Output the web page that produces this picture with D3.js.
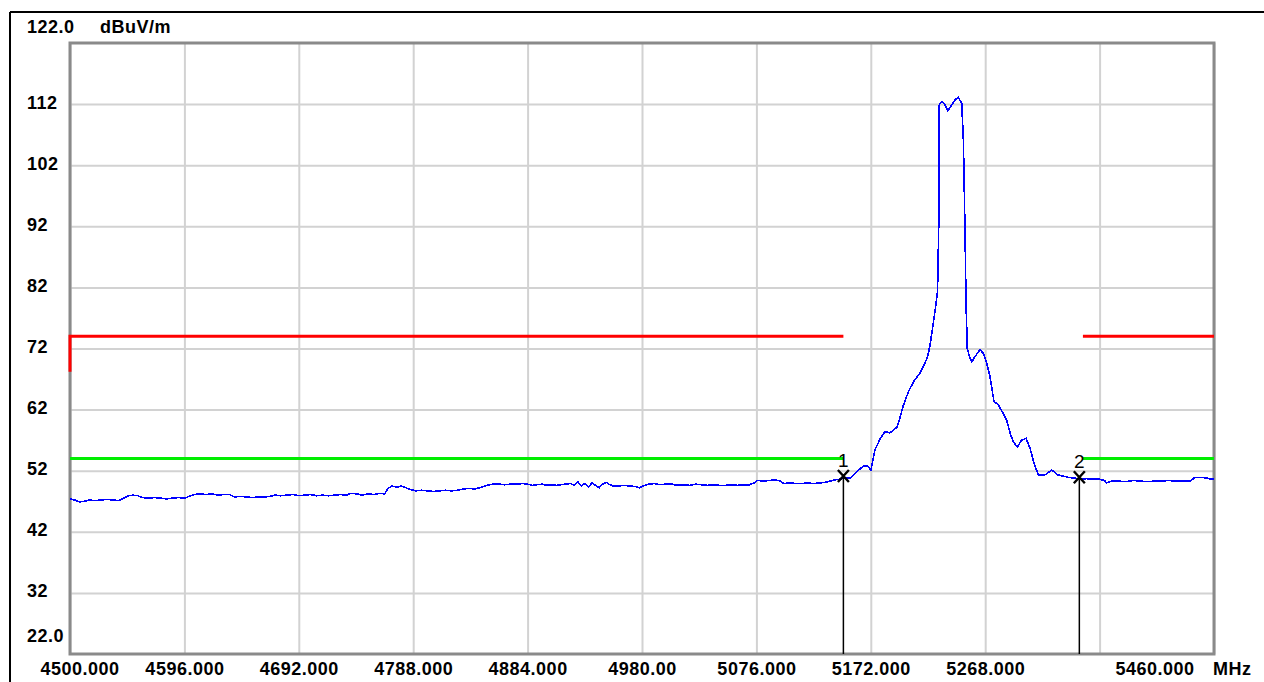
<!DOCTYPE html>
<html>
<head>
<meta charset="utf-8">
<script src="https://cdn.jsdelivr.net/npm/d3@7"></script>
<style>
  html, body { margin: 0; padding: 0; background: #fff; }
  svg { display: block; }
  text { font-family: "Liberation Sans", Arial, sans-serif; font-weight: bold; font-size: 18px; fill: #000; }
</style>
</head>
<body>
<svg id="chart" width="1264" height="682"></svg>
<script>
// Frequency axis (MHz) and level axis (dBuV/m)
const freqTicks = [4500, 4596, 4692, 4788, 4884, 4980, 5076, 5172, 5268, 5364, 5460];
const freqLabels = ["4500.000", "4596.000", "4692.000", "4788.000", "4884.000", "4980.00",
                    "5076.000", "5172.000", "5268.000", "", "5460.000"];
const levelTicks = [32, 42, 52, 62, 72, 82, 92, 102, 112];
const levelMin = 22.0, levelMax = 122.0;
const freqMin = 4500, freqMax = 5460;

// Measured spectrum: frequency (MHz) and level (dBuV/m)
const traceFreq = [
  4500, 4504, 4508, 4512, 4516, 4521, 4526, 4531, 4536, 4541, 4545, 4549, 4553, 4557, 4561,
  4566, 4571, 4576, 4581, 4586, 4591, 4596, 4600, 4604, 4609, 4614, 4619, 4624, 4629, 4634,
  4638, 4643, 4648, 4653, 4658, 4663, 4668, 4672, 4677, 4682, 4687, 4692, 4697, 4702, 4707,
  4712, 4717, 4722, 4727, 4732, 4736, 4741, 4745, 4750, 4755, 4760, 4764, 4767, 4770, 4774,
  4778, 4782, 4786, 4790, 4795, 4800, 4805, 4810, 4815, 4820, 4825, 4830, 4835, 4840, 4845,
  4850, 4855, 4860, 4865, 4870, 4875, 4880, 4884, 4888, 4892, 4896, 4900, 4904, 4908, 4912,
  4916, 4920, 4923, 4926, 4929, 4932, 4935, 4938, 4941, 4944, 4947, 4950, 4953, 4956, 4960,
  4965, 4970, 4975, 4978, 4982, 4986, 4990, 4995, 5000, 5005, 5010, 5015, 5020, 5025, 5030,
  5035, 5040, 5045, 5050, 5055, 5060, 5065, 5070, 5074, 5077, 5082, 5087, 5092, 5096, 5099,
  5104, 5109, 5114, 5119, 5124, 5129, 5134, 5138, 5142, 5146, 5149, 5155, 5160, 5166, 5170,
  5172, 5175.5, 5180, 5184, 5188, 5194, 5196, 5199, 5203.5, 5208, 5213, 5217.5, 5220, 5222, 5224,
  5226, 5228, 5229, 5229.5, 5231.5, 5233.7, 5236.6, 5240, 5242.7, 5245.5, 5248.3, 5249.7, 5251, 5252, 5253,
  5254.7, 5256.7, 5259.5, 5263.7, 5266.4, 5269.3, 5272, 5275.4, 5279, 5283, 5286, 5289, 5291.6, 5295, 5298.6,
  5302.3, 5305.6, 5309, 5312.6, 5318, 5324, 5329, 5334, 5338, 5343, 5347, 5353, 5358, 5364, 5368,
  5370, 5374, 5380, 5386, 5392, 5398, 5404, 5410, 5416, 5422, 5428, 5434, 5440, 5444, 5450,
  5454, 5458, 5460
];
const traceLevel = [
  47.4, 47.2, 46.9, 47.0, 47.2, 47.1, 47.2, 47.3, 47.2, 47.1, 47.5, 47.9, 48.0, 47.9, 47.6,
  47.5, 47.6, 47.5, 47.4, 47.5, 47.6, 47.5, 47.8, 48.1, 48.2, 48.1, 48.2, 48.0, 48.1, 48.1,
  47.7, 47.8, 47.7, 47.6, 47.7, 47.7, 47.8, 48.0, 47.9, 48.0, 48.1, 47.9, 48.0, 48.1, 47.9,
  48.0, 47.9, 48.0, 48.1, 48.0, 48.3, 48.2, 48.0, 48.2, 48.1, 48.3, 48.2, 49.1, 49.5, 49.3,
  49.5, 49.2, 48.9, 48.7, 48.8, 48.7, 48.6, 48.7, 48.8, 48.7, 48.8, 49.0, 49.1, 49.0, 49.3,
  49.6, 49.8, 49.8, 49.7, 49.8, 49.8, 49.9, 49.8, 49.6, 49.7, 49.8, 49.6, 49.7, 49.6, 49.7,
  49.8, 49.9, 49.6, 50.2, 49.5, 49.9, 49.3, 50.0, 49.6, 49.2, 49.8, 50.1, 49.7, 49.5, 49.5,
  49.6, 49.5, 49.4, 49.2, 49.6, 49.8, 49.9, 49.7, 49.8, 49.8, 49.6, 49.7, 49.6, 49.8, 49.7,
  49.6, 49.7, 49.6, 49.6, 49.7, 49.6, 49.7, 49.7, 50.0, 50.4, 50.3, 50.4, 50.5, 50.3, 49.9,
  50.0, 49.9, 49.9, 50.0, 49.9, 50.0, 50.1, 50.3, 50.5, 50.6, 50.8, 50.8, 51.8, 52.8, 52.7,
  52.1, 55.4, 57.3, 58.4, 58.2, 59.1, 60.3, 62.5, 64.9, 66.6, 67.9, 69.6, 70.9, 72.9, 75.6,
  78.3, 81.3, 91.9, 111.9, 112.4, 112.1, 110.9, 111.9, 112.7, 113.1, 112.1, 106.1, 91.9, 78.8, 72.0,
  70.7, 69.8, 70.7, 71.8, 71.2, 69.6, 67.4, 63.3, 62.8, 61.4, 60.3, 58.1, 56.7, 55.9, 57.0,
  57.3, 55.7, 53.2, 51.3, 51.3, 52.1, 51.3, 51.1, 50.9, 50.8, 50.6, 50.7, 50.6, 50.6, 50.4,
  50.0, 50.3, 50.3, 50.2, 50.4, 50.3, 50.2, 50.3, 50.3, 50.4, 50.3, 50.3, 50.3, 50.9, 50.9,
  50.8, 50.6, 50.6
];

// Limit lines: peak (red) and average (green), each as separate segments
const peakLimitSegments = [
  [[4500, 68.2], [4500, 74], [5149, 74]],
  [[5350, 74], [5460, 74]]
];
const avgLimitSegments = [
  [[4500, 54], [5149, 54]],
  [[5350, 54], [5460, 54]]
];

// Markers: label, frequency (MHz), level (dBuV/m)
const markerNames = ["1", "2"];
const markerFreq = [5149, 5347];
const markerLevel = [50.8, 50.6];

const svg = d3.select("#chart");
const plot = { left: 70, right: 1214, top: 43, bottom: 654 };

const x = d3.scaleLinear().domain([freqMin, freqMax]).range([plot.left, plot.right]);
const y = d3.scaleLinear().domain([levelMin, levelMax]).range([plot.bottom, plot.top]);

// Outer frame (top and left rules)
svg.append("line").attr("x1", 10).attr("x2", 1264).attr("y1", 12).attr("y2", 12)
  .attr("stroke", "#000").attr("stroke-width", 2);
svg.append("line").attr("x1", 10).attr("x2", 10).attr("y1", 12).attr("y2", 682)
  .attr("stroke", "#000").attr("stroke-width", 2);

// Vertical grid + frequency labels
const xAxis = d3.axisBottom(x)
  .tickValues(freqTicks)
  .tickSize(-(plot.bottom - plot.top))
  .tickPadding(0)
  .tickFormat((d, i) => freqLabels[i]);
const gx = svg.append("g").attr("transform", `translate(0,${plot.bottom})`).call(xAxis);
gx.select(".domain").remove();
gx.selectAll(".tick line").attr("stroke", "#d2d2d2").attr("stroke-width", 2);
gx.selectAll(".tick text")
  .attr("y", 21)
  .attr("dy", 0)
  .style("font-size", "18px")
  .style("letter-spacing", "0.5px")
  .attr("fill", "#000");
// The end labels are kept inside the frame
gx.selectAll(".tick text").filter(d => d === freqMin).attr("text-anchor", "start").attr("x", -30);
gx.selectAll(".tick text").filter(d => d === freqMax).attr("text-anchor", "end").attr("x", -20);

// Horizontal grid + level labels
const yAxis = d3.axisLeft(y)
  .tickValues(levelTicks)
  .tickSize(-(plot.right - plot.left))
  .tickFormat(d3.format("d"));
const gy = svg.append("g").attr("transform", `translate(${plot.left},0)`).call(yAxis);
gy.select(".domain").remove();
gy.selectAll(".tick line").attr("stroke", "#d2d2d2").attr("stroke-width", 2);
gy.selectAll(".tick text")
  .attr("text-anchor", "start")
  .attr("x", 27 - plot.left)
  .attr("dy", "0.3em")
  .attr("y", -1.5)
  .style("font-size", "18px")
  .style("letter-spacing", "0.5px")
  .attr("fill", "#000");

// Axis extreme labels and unit
svg.append("text").attr("x", 27).attr("y", 33).style("letter-spacing", "0.5px").text(levelMax.toFixed(1));
svg.append("text").attr("x", 100).attr("y", 33).style("letter-spacing", "0.5px").text("dBuV/m");
svg.append("text").attr("x", 27).attr("y", y(levelMin) - 12).style("letter-spacing", "0.5px").text(levelMin.toFixed(1));
svg.append("text").attr("x", 1213).attr("y", plot.bottom + 21).style("letter-spacing", "0.5px").text("MHz");

// Plot border
svg.append("rect")
  .attr("x", plot.left).attr("y", plot.top)
  .attr("width", plot.right - plot.left).attr("height", plot.bottom - plot.top)
  .attr("fill", "none").attr("stroke", "#8a8a8a").attr("stroke-width", 3);

const lineGen = d3.line().x(d => x(d[0])).y(d => y(d[1]));

// Limit lines
svg.append("g").selectAll("path").data(peakLimitSegments).join("path")
  .attr("d", lineGen).attr("fill", "none").attr("stroke", "#ff0000").attr("stroke-width", 3);
svg.append("g").selectAll("path").data(avgLimitSegments).join("path")
  .attr("d", lineGen).attr("fill", "none").attr("stroke", "#00ee00").attr("stroke-width", 3);

// Spectrum trace, drawn aliased like an instrument screen
const traceData = traceFreq.map((f, i) => [f, traceLevel[i]]);
svg.append("path")
  .datum(traceData)
  .attr("d", lineGen)
  .attr("fill", "none")
  .attr("stroke", "#0000ff")
  .attr("stroke-width", 1.6)
  .attr("shape-rendering", "crispEdges");

// Markers
const markers = markerNames.map((n, i) => ({ name: n, f: markerFreq[i], v: markerLevel[i] }));
const mg = svg.append("g").selectAll("g").data(markers).join("g")
  .attr("transform", d => `translate(${x(d.f)},${y(d.v)})`);
mg.append("line")
  .attr("x1", 0).attr("x2", 0).attr("y1", 0).attr("y2", d => plot.bottom - y(d.v))
  .attr("stroke", "#000").attr("stroke-width", 1.5);
mg.append("path")
  .attr("d", "M-5.5,-8 L5.5,4 M5.5,-8 L-5.5,4")
  .attr("stroke", "#000").attr("stroke-width", 2.4).attr("fill", "none");
mg.append("text")
  .attr("x", 0).attr("y", -11)
  .attr("text-anchor", "middle")
  .style("font-weight", "normal")
  .style("font-size", "19px")
  .text(d => d.name);
</script>
</body>
</html>
